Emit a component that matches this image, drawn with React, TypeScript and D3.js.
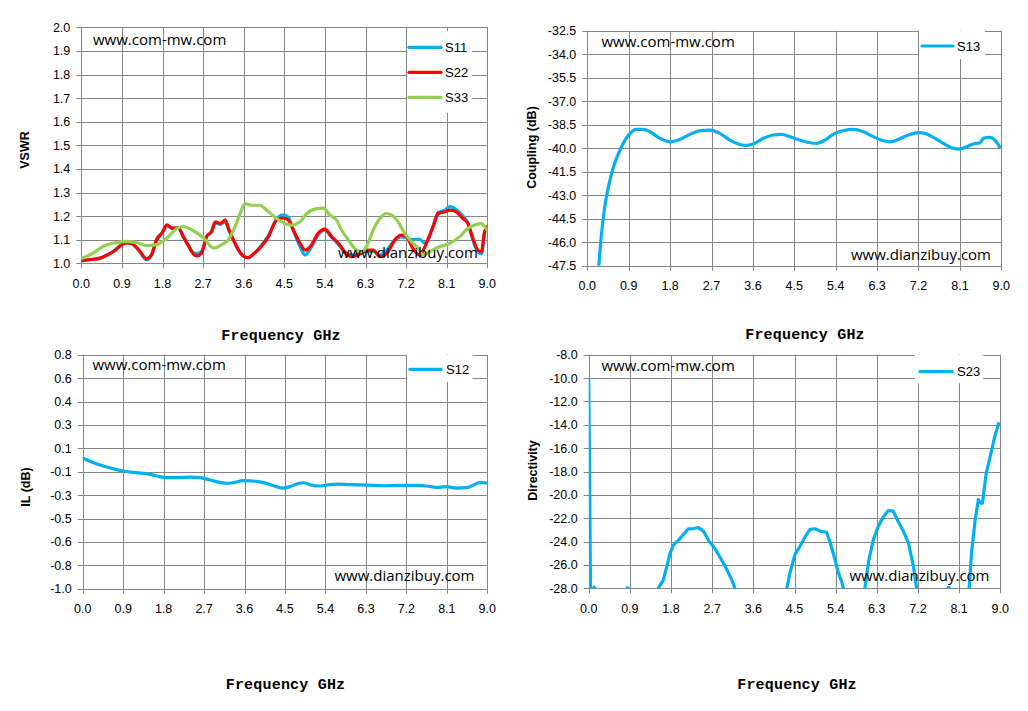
import React from 'react';
import * as d3 from 'd3';

type Pt = [number, number];

const FREQ_TICKS = [0, 0.9, 1.8, 2.7, 3.6, 4.5, 5.4, 6.3, 7.2, 8.1, 9.0];

const VSWR_TICKS = [1.0, 1.1, 1.2, 1.3, 1.4, 1.5, 1.6, 1.7, 1.8, 1.9, 2.0];
const COUPLING_TICKS = [-47.5, -46.0, -44.5, -43.0, -41.5, -40.0, -38.5, -37.0, -35.5, -34.0, -32.5];
const IL_TICKS = [-1.0, -0.82, -0.64, -0.46, -0.28, -0.1, 0.08, 0.26, 0.44, 0.62, 0.8];
const IL_TICK_LABELS = ['-1.0', '-0.8', '-0.6', '-0.5', '-0.3', '-0.1', '0.1', '0.3', '0.4', '0.6', '0.8'];
const DIR_TICKS = [-28, -26, -24, -22, -20, -18, -16, -14, -12, -10, -8];

const S11: Pt[] = [
  [0.0, 1.010], [0.2, 1.015], [0.42, 1.022], [0.6, 1.038], [0.72, 1.052], [0.9, 1.080], [1.01, 1.087], [1.12, 1.083],
  [1.27, 1.056], [1.45, 1.015], [1.56, 1.036], [1.67, 1.100], [1.79, 1.130], [1.9, 1.160], [2.01, 1.148], [2.15, 1.150],
  [2.26, 1.112], [2.38, 1.075], [2.49, 1.045], [2.58, 1.042], [2.67, 1.052], [2.78, 1.114], [2.89, 1.135], [2.97, 1.172],
  [3.08, 1.165], [3.19, 1.178], [3.26, 1.145], [3.37, 1.100], [3.48, 1.058], [3.59, 1.030], [3.7, 1.024], [3.81, 1.038],
  [3.96, 1.068], [4.15, 1.118], [4.33, 1.188], [4.48, 1.205], [4.59, 1.195], [4.7, 1.140], [4.85, 1.070], [4.96, 1.035],
  [5.1, 1.068], [5.25, 1.120], [5.4, 1.140], [5.55, 1.110], [5.7, 1.080], [5.84, 1.045], [5.99, 1.035], [6.14, 1.040],
  [6.32, 1.048], [6.47, 1.050], [6.62, 1.035], [6.8, 1.062], [6.95, 1.100], [7.1, 1.112], [7.21, 1.108], [7.35, 1.100],
  [7.5, 1.102], [7.62, 1.085], [7.8, 1.160], [7.91, 1.215], [8.06, 1.225], [8.17, 1.240], [8.31, 1.228], [8.46, 1.200],
  [8.57, 1.170], [8.68, 1.100], [8.79, 1.048], [8.87, 1.040], [8.94, 1.128], [9.0, 1.150],
];

const S22: Pt[] = [
  [0.0, 1.012], [0.2, 1.016], [0.42, 1.022], [0.6, 1.038], [0.72, 1.051], [0.9, 1.079], [1.01, 1.086], [1.12, 1.083],
  [1.27, 1.058], [1.45, 1.019], [1.56, 1.038], [1.67, 1.100], [1.79, 1.128], [1.9, 1.163], [2.01, 1.149], [2.15, 1.149],
  [2.26, 1.114], [2.38, 1.072], [2.49, 1.038], [2.56, 1.031], [2.67, 1.044], [2.78, 1.114], [2.89, 1.135], [2.97, 1.176],
  [3.08, 1.169], [3.19, 1.183], [3.26, 1.149], [3.37, 1.100], [3.48, 1.058], [3.59, 1.031], [3.7, 1.024], [3.81, 1.038],
  [3.96, 1.065], [4.15, 1.114], [4.33, 1.183], [4.48, 1.192], [4.59, 1.183], [4.7, 1.141], [4.85, 1.085], [4.96, 1.056],
  [5.1, 1.077], [5.25, 1.127], [5.4, 1.145], [5.55, 1.113], [5.7, 1.085], [5.84, 1.049], [5.99, 1.028], [6.14, 1.035],
  [6.32, 1.056], [6.47, 1.056], [6.62, 1.028], [6.8, 1.049], [6.95, 1.099], [7.1, 1.120], [7.21, 1.113], [7.35, 1.063],
  [7.5, 1.035], [7.65, 1.085], [7.8, 1.155], [7.91, 1.211], [8.06, 1.218], [8.17, 1.225], [8.31, 1.218], [8.46, 1.190],
  [8.57, 1.169], [8.68, 1.106], [8.79, 1.056], [8.87, 1.049], [8.94, 1.134], [9.0, 1.155],
];

const S33: Pt[] = [
  [0.0, 1.020], [0.27, 1.044], [0.49, 1.072], [0.72, 1.086], [1.01, 1.093], [1.27, 1.086], [1.45, 1.075], [1.67, 1.079],
  [1.9, 1.107], [2.08, 1.142], [2.26, 1.156], [2.45, 1.142], [2.71, 1.107], [2.93, 1.065], [3.11, 1.079], [3.26, 1.100],
  [3.41, 1.156], [3.52, 1.211], [3.63, 1.253], [3.78, 1.246], [3.96, 1.246], [4.11, 1.225], [4.33, 1.190], [4.51, 1.169],
  [4.66, 1.162], [4.85, 1.176], [5.0, 1.211], [5.22, 1.232], [5.36, 1.234], [5.51, 1.204], [5.66, 1.183], [5.77, 1.141],
  [5.92, 1.099], [6.06, 1.063], [6.21, 1.049], [6.32, 1.070], [6.47, 1.141], [6.62, 1.190], [6.76, 1.211], [6.88, 1.204],
  [7.02, 1.176], [7.17, 1.127], [7.32, 1.092], [7.47, 1.063], [7.58, 1.035], [7.72, 1.050], [7.94, 1.070], [8.17, 1.085],
  [8.39, 1.113], [8.57, 1.148], [8.72, 1.162], [8.87, 1.169], [8.94, 1.155], [9.0, 1.140],
];

const S13: Pt[] = [
  [0.24, -47.9], [0.31, -45.44], [0.38, -43.73], [0.46, -42.46], [0.57, -41.18], [0.71, -40.12], [0.82, -39.48],
  [0.93, -39.05], [1.07, -38.80], [1.22, -38.80], [1.36, -38.95], [1.58, -39.37], [1.8, -39.59], [2.01, -39.44],
  [2.23, -39.12], [2.45, -38.88], [2.67, -38.84], [2.88, -39.05], [3.1, -39.48], [3.32, -39.76], [3.46, -39.82],
  [3.61, -39.73], [3.83, -39.37], [4.04, -39.16], [4.22, -39.12], [4.41, -39.27], [4.62, -39.48], [4.84, -39.65],
  [4.99, -39.69], [5.17, -39.48], [5.38, -39.05], [5.57, -38.88], [5.78, -38.80], [6.0, -38.95], [6.22, -39.27],
  [6.43, -39.52], [6.58, -39.59], [6.76, -39.44], [6.98, -39.16], [7.2, -39.01], [7.38, -39.10], [7.56, -39.37],
  [7.74, -39.69], [7.96, -40.01], [8.1, -40.05], [8.25, -39.90], [8.39, -39.73], [8.54, -39.65], [8.61, -39.37],
  [8.75, -39.31], [8.86, -39.48], [8.96, -39.90],
];

const S12: Pt[] = [
  [0.0, 0.005], [0.24, -0.031], [0.46, -0.056], [0.68, -0.077], [0.9, -0.095], [1.13, -0.105], [1.42, -0.115],
  [1.65, -0.133], [1.87, -0.146], [2.09, -0.146], [2.39, -0.141], [2.61, -0.146], [2.83, -0.164], [3.05, -0.182],
  [3.2, -0.190], [3.35, -0.185], [3.57, -0.169], [3.87, -0.174], [4.09, -0.190], [4.31, -0.215], [4.46, -0.226],
  [4.61, -0.215], [4.76, -0.195], [4.91, -0.185], [5.09, -0.203], [5.24, -0.210], [5.43, -0.203], [5.65, -0.195],
  [5.95, -0.200], [6.32, -0.203], [6.69, -0.208], [7.06, -0.205], [7.43, -0.205], [7.65, -0.210], [7.87, -0.221],
  [8.09, -0.215], [8.32, -0.226], [8.54, -0.223], [8.69, -0.203], [8.84, -0.182], [8.98, -0.187],
];

const S23: Pt[] = [
  [0.0, -10.1], [0.02, -18.2], [0.04, -28.6], [0.07, -28.2], [0.12, -27.9], [0.18, -28.3], [0.4, -29.5], [0.7, -28.8],
  [0.85, -27.95], [0.95, -28.5], [1.2, -30.0], [1.45, -28.8], [1.52, -28.0], [1.63, -27.3], [1.71, -26.1], [1.78, -25.0],
  [1.85, -24.3], [1.96, -23.9], [2.07, -23.4], [2.18, -22.9], [2.29, -22.9], [2.4, -22.8], [2.51, -23.1], [2.62, -23.9],
  [2.76, -24.6], [2.91, -25.6], [3.02, -26.4], [3.13, -27.3], [3.2, -28.0], [3.35, -29.5], [3.8, -31.0], [4.15, -29.5],
  [4.33, -28.0], [4.4, -26.7], [4.51, -25.1], [4.62, -24.4], [4.73, -23.6], [4.84, -22.95], [4.95, -22.9], [5.06, -23.1],
  [5.2, -23.2], [5.28, -24.1], [5.39, -25.6], [5.46, -26.7], [5.53, -27.4], [5.57, -28.0], [5.7, -29.5], [5.9, -29.5],
  [6.04, -28.0], [6.12, -25.7], [6.22, -23.9], [6.33, -22.7], [6.44, -21.9], [6.55, -21.35], [6.66, -21.4], [6.77, -22.3],
  [6.88, -23.1], [6.99, -24.1], [7.1, -26.1], [7.17, -28.0], [7.3, -29.5], [7.6, -29.5], [7.87, -27.9], [7.95, -28.4],
  [8.15, -29.5], [8.32, -28.0], [8.37, -25.0], [8.45, -22.15], [8.52, -20.4], [8.57, -20.7], [8.61, -20.7], [8.69, -18.2],
  [8.78, -16.7], [8.88, -15.0], [8.96, -13.9],
];

const BLUE = '#00B0F0';
const RED = '#FF0000';
const GREEN = '#92D050';
const GRID = '#868686';

type Series = { name: string; data: Pt[]; color: string };

type PanelCfg = {
  id: string;
  x0: number; x1: number; y0: number; y1: number;
  yTicks: number[]; yLabels: string[];
  series: Series[];
  yTitle: string; yTitleX: number; yTitleY: number;
  xTitleX: number; xTitleY: number;
  legend: { x0: number; x1: number; y0: number; y1: number; lineX0: number; lineX1: number; textX: number; ys: number[] };
  wm1: { x: number; y: number };
  wm2: { x: number; y: number };
  curve: d3.CurveFactory;
};

const TICK_FONT = '"Liberation Sans", Arial, sans-serif';
const WM_FONT = '"Open Sans", "DejaVu Sans", sans-serif';

function Panel({ cfg }: { cfg: PanelCfg }) {
  const x = d3.scaleLinear().domain([0, 9]).range([cfg.x0, cfg.x1]);
  const yMin = cfg.yTicks[0];
  const yMax = cfg.yTicks[cfg.yTicks.length - 1];
  const y = d3.scaleLinear().domain([yMin, yMax]).range([cfg.y1, cfg.y0]);
  const line = d3.line<Pt>().x(d => x(d[0])).y(d => y(d[1])).curve(cfg.curve);
  const lg = cfg.legend;
  return (
    <g>
      <defs>
        <clipPath id={cfg.id}>
          <rect x={cfg.x0} y={cfg.y0} width={cfg.x1 - cfg.x0} height={cfg.y1 - cfg.y0} />
        </clipPath>
      </defs>
      {cfg.yTicks.map((t, i) => (
        <line key={'h' + i} x1={cfg.x0 - 5} x2={cfg.x1} y1={Math.round(y(t)) + 0.5} y2={Math.round(y(t)) + 0.5} stroke={GRID} strokeWidth={1} />
      ))}
      {FREQ_TICKS.map((t, i) => (
        <line key={'v' + i} x1={Math.round(x(t)) + 0.5} x2={Math.round(x(t)) + 0.5} y1={cfg.y0} y2={cfg.y1 + 5} stroke={GRID} strokeWidth={1} />
      ))}
      {cfg.yTicks.map((t, i) => (
        <text key={'yl' + i} x={cfg.x0 - 11} y={y(t)} dy="0.36em" textAnchor="end" fontFamily={TICK_FONT} fontSize={12.5} fill="#000">
          {cfg.yLabels[i]}
        </text>
      ))}
      {FREQ_TICKS.map((t, i) => (
        <text key={'xl' + i} x={x(t)} y={cfg.y1 + 20} dy="0.36em" textAnchor="middle" fontFamily={TICK_FONT} fontSize={12.5} fill="#000">
          {t.toFixed(1)}
        </text>
      ))}
      <g clipPath={`url(#${cfg.id})`}>
        {cfg.series.map(s => (
          <path key={s.name} d={line(s.data) || ''} fill="none" stroke={s.color} strokeWidth={3.2} strokeLinejoin="round" strokeLinecap="round" />
        ))}
      </g>
      <rect x={lg.x0} y={lg.y0} width={lg.x1 - lg.x0} height={lg.y1 - lg.y0} fill="#fff" />
      {cfg.series.map((s, i) => (
        <g key={'lg' + s.name}>
          <line x1={lg.lineX0} x2={lg.lineX1} y1={lg.ys[i]} y2={lg.ys[i]} stroke={s.color} strokeWidth={3.2} strokeLinecap="round" />
          <text x={lg.textX} y={lg.ys[i]} dy="0.36em" fontFamily={TICK_FONT} fontSize={13} fill="#000">{s.name}</text>
        </g>
      ))}
      <text x={cfg.wm1.x} y={cfg.wm1.y} fontFamily={WM_FONT} fontSize={15} fill="#000">www.com-mw.com</text>
      <text x={cfg.wm2.x} y={cfg.wm2.y} textAnchor="end" fontFamily={WM_FONT} fontSize={15} fill="#000">www.dianzibuy.com</text>
      <text
        transform={`translate(${cfg.yTitleX},${cfg.yTitleY}) rotate(-90)`}
        textAnchor="middle" dy="0.36em" fontFamily={TICK_FONT} fontWeight="bold" fontSize={12.5} fill="#000"
      >
        {cfg.yTitle}
      </text>
      <text x={cfg.xTitleX} y={cfg.xTitleY} dy="0.36em" textAnchor="middle" fontFamily='"Liberation Mono", "DejaVu Sans Mono", monospace' fontWeight="bold" fontSize={15} letterSpacing={0.2} fill="#000">
        Frequency GHz
      </text>
    </g>
  );
}

const fmt1 = (v: number) => v.toFixed(1);

const PANELS: PanelCfg[] = [
  {
    id: 'clipA', x0: 81.3, x1: 487.3, y0: 27.3, y1: 263.3,
    yTicks: VSWR_TICKS, yLabels: VSWR_TICKS.map(fmt1),
    series: [
      { name: 'S11', data: S11, color: BLUE },
      { name: 'S22', data: S22, color: RED },
      { name: 'S33', data: S33, color: GREEN },
    ],
    yTitle: 'VSWR', yTitleX: 24, yTitleY: 150,
    xTitleX: 281, xTitleY: 335,
    legend: { x0: 407, x1: 472, y0: 31, y1: 113, lineX0: 409, lineX1: 441, textX: 445, ys: [47.3, 72.3, 97.3] },
    wm1: { x: 93, y: 45 }, wm2: { x: 478, y: 257.5 },
    curve: d3.curveMonotoneX,
  },
  {
    id: 'clipB', x0: 587.3, x1: 1001.3, y0: 30.7, y1: 265.7,
    yTicks: COUPLING_TICKS, yLabels: COUPLING_TICKS.map(fmt1),
    series: [{ name: 'S13', data: S13, color: BLUE }],
    yTitle: 'Coupling (dB)', yTitleX: 531, yTitleY: 147.5,
    xTitleX: 805, xTitleY: 334,
    legend: { x0: 919, x1: 985, y0: 31, y1: 59, lineX0: 922, lineX1: 953, textX: 957, ys: [46] },
    wm1: { x: 601.5, y: 47 }, wm2: { x: 991, y: 260 },
    curve: d3.curveMonotoneX,
  },
  {
    id: 'clipC', x0: 82.7, x1: 487.3, y0: 354.7, y1: 588.7,
    yTicks: IL_TICKS, yLabels: IL_TICK_LABELS,
    series: [{ name: 'S12', data: S12, color: BLUE }],
    yTitle: 'IL (dB)', yTitleX: 25.5, yTitleY: 487,
    xTitleX: 285.5, xTitleY: 684,
    legend: { x0: 407, x1: 472.7, y0: 355, y1: 381.7, lineX0: 410, lineX1: 441, textX: 446, ys: [369.3] },
    wm1: { x: 92.5, y: 370 }, wm2: { x: 474.5, y: 580.7 },
    curve: d3.curveMonotoneX,
  },
  {
    id: 'clipD', x0: 588.7, x1: 1000.3, y0: 354.7, y1: 588.3,
    yTicks: DIR_TICKS, yLabels: DIR_TICKS.map(fmt1),
    series: [{ name: 'S23', data: S23, color: BLUE }],
    yTitle: 'Directivity', yTitleX: 532, yTitleY: 470.5,
    xTitleX: 797, xTitleY: 684,
    legend: { x0: 915, x1: 983.3, y0: 355, y1: 383.3, lineX0: 920, lineX1: 952, textX: 957, ys: [371.7] },
    wm1: { x: 601.5, y: 370.7 }, wm2: { x: 989.5, y: 580.7 },
    curve: d3.curveLinear,
  },
];

export default function App() {
  return (
    <svg
      width={1028}
      height={711}
      viewBox="0 0 1028 711"
      style={{ position: 'absolute', left: 0, top: 0, background: '#fff', display: 'block' }}
    >
      <rect x={0} y={0} width={1028} height={711} fill="#fff" />
      {PANELS.map(p => (
        <Panel key={p.id} cfg={p} />
      ))}
    </svg>
  );
}
